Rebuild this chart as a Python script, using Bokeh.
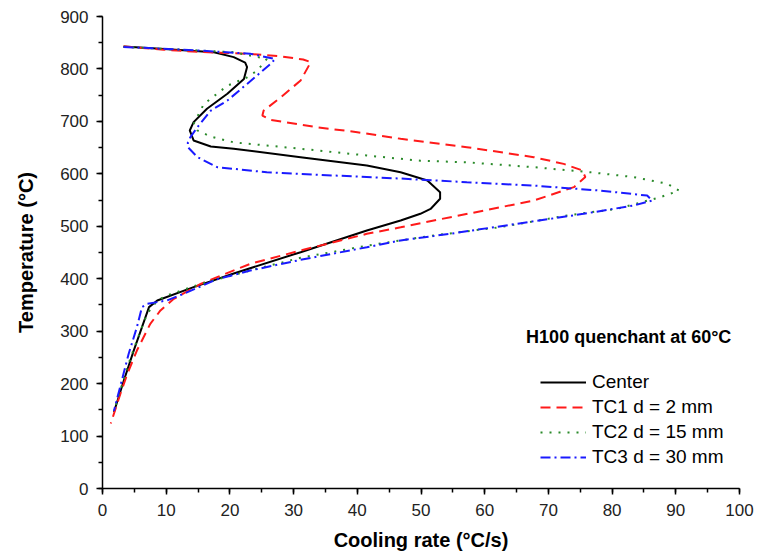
from bokeh.plotting import figure
from bokeh.models import Range1d, SingleIntervalTicker, Label
from bokeh.embed import file_html
from bokeh.resources import INLINE

# ---- data ----
center_rate = [3.3, 9.1, 17.5, 20.6, 22.4, 22.7, 22.2, 19.6, 16.4, 14.3, 13.7, 14.3, 17.0, 20.6, 31.1,
               41.5, 46.8, 51.0, 53.0, 53.0, 51.5, 49.9, 46.8, 41.5, 31.1, 20.6, 14.3, 8.6, 7.3, 6.2,
               4.9, 3.35, 1.8]
center_temp = [843, 838.5, 832, 822.5, 812, 803.5, 781, 752.6, 724, 698.6, 682.7, 663.6, 652, 647.8, 631.8,
               616, 603, 587.4, 565, 552.4, 533, 523.8, 511, 492, 450.6, 410, 384, 358.5, 345.8, 307.6,
               263, 206, 146]

tc1_rate = [3.3, 9.6, 15.4, 22.7, 28.0, 31.5, 32.7, 31.1, 28.0, 25.3, 25.1, 26.4, 33.7, 40.0, 46.8,
            57.2, 67.7, 72.4, 75.3, 75.8, 74.0, 67.7, 59.9, 52.0, 46.8, 41.5, 31.1, 23.2, 18.0, 15.4,
            11.2, 9.1, 7.5, 5.4, 3.9, 2.8, 1.3]
tc1_temp = [843, 836.6, 832.5, 829, 824, 818, 813, 778, 746, 720.6, 711, 703, 688.8, 679.4, 666.8,
            650.9, 631.8, 619, 606.6, 593.8, 574.6, 549, 530, 511, 498, 485.6, 453.8, 428.4, 403, 390,
            361.7, 339.5, 314, 263, 218.7, 180.5, 124]

tc2_rate = [3.3, 10.1, 20.6, 25.8, 24.3, 22.7, 19.6, 15.9, 14.3, 14.9, 17.0, 20.6, 25.8, 31.1, 41.5,
            49.9, 57.2, 67.7, 76.6, 83.4, 88.7, 90.5, 87.6, 80.8, 73.0, 62.5, 52.0, 46.8, 41.5, 31.1,
            23.2, 15.4, 10.1, 8.6, 7.0, 5.4, 3.9, 2.0]
tc2_temp = [842, 838, 832, 819, 797, 784, 768, 733, 695, 682.7, 671, 660, 654, 647.8, 635,
            625, 622, 612.7, 603, 593.8, 581, 568, 555.6, 533.4, 520.7, 498.4, 482.5, 473, 463, 440,
            415.6, 390, 368, 358.5, 333, 282, 231.4, 155]

tc3_rate = [3.3, 15.4, 23.2, 27.1, 26.4, 22.7, 19.6, 17.0, 14.9, 13.8, 13.4, 13.4, 14.9, 18.0, 25.8,
            36.3, 46.8, 57.2, 67.7, 78.2, 85.5, 86.3, 83.4, 75.5, 65.0, 54.5, 46.8, 41.5, 31.1, 23.2,
            18.0, 12.7, 10.1, 7.0, 6.2, 5.4, 4.1, 1.8]
tc3_temp = [842, 835, 829, 819, 809.7, 771.5, 739.7, 720.6, 689, 670, 660, 650.9, 632, 612.7, 603,
            596.8, 591, 584, 577.6, 568, 558.6, 549, 539.6, 523.7, 504.6, 485.6, 473, 460, 436, 415.6,
            399, 371, 358.5, 352, 346, 307.6, 256.6, 148]

series_labels = ["Center", "TC1 d = 2 mm", "TC2 d = 15 mm", "TC3 d = 30 mm"]
annotation = "H100 quenchant at 60°C"
x_title = "Cooling rate (°C/s)"
y_title = "Temperature (°C)"

FONT = "Liberation Sans"

p = figure(width=758, height=558, output_backend="svg", toolbar_location=None,
           x_range=Range1d(0, 100), y_range=Range1d(0, 900),
           min_border_left=102, min_border_right=19, min_border_top=16, min_border_bottom=70)
p.outline_line_color = None
p.grid.visible = False
p.background_fill_color = "white"
p.border_fill_color = "white"

p.line(center_rate, center_temp, line_color="black", line_width=2, legend_label=series_labels[0])
p.line(tc1_rate, tc1_temp, line_color="#ff1a1a", line_width=2, line_dash="10 6", legend_label=series_labels[1])
p.line(tc2_rate, tc2_temp, line_color="#2a8a2a", line_width=2, line_dash="2 7", legend_label=series_labels[2])
p.line(tc3_rate, tc3_temp, line_color="#1a1aff", line_width=2, line_dash="10 4 2 4", legend_label=series_labels[3])

p.xaxis.ticker = SingleIntervalTicker(interval=10, num_minor_ticks=2)
p.yaxis.ticker = SingleIntervalTicker(interval=100, num_minor_ticks=2)
for ax in (p.xaxis[0], p.yaxis[0]):
    ax.axis_line_width = 1.5
    ax.axis_line_color = "black"
    ax.major_tick_line_width = 1.5
    ax.minor_tick_line_width = 1.5
    ax.major_tick_out = 6
    ax.major_tick_in = 0
    ax.minor_tick_out = 4
    ax.minor_tick_in = 0
    ax.major_label_text_font = FONT
    ax.major_label_text_font_size = "17px"
    ax.major_label_text_color = "#222222"
    ax.axis_label_text_font = FONT
    ax.axis_label_text_font_style = "bold"
    ax.axis_label_text_font_size = "20px"
    ax.axis_label_text_color = "black"

p.xaxis.axis_label = x_title
p.yaxis.axis_label = y_title
p.xaxis.major_label_standoff = 9
p.xaxis.axis_label_standoff = 10
p.yaxis.major_label_standoff = 8
p.yaxis.axis_label_standoff = 20

p.add_layout(Label(x=66.5, y=288, text=annotation, text_font=FONT, text_font_style="bold",
                   text_font_size="18px", text_baseline="middle", text_align="left", text_color="black"))

lg = p.legend[0]
lg.location = (438, 20)
lg.border_line_color = None
lg.background_fill_alpha = 0
lg.label_text_font = FONT
lg.label_text_font_size = "19px"
lg.label_text_color = "black"
lg.glyph_width = 46
lg.glyph_height = 20
lg.label_height = 20
lg.spacing = 3
lg.padding = 0
lg.margin = 0
lg.label_standoff = 6

open("out.html", "w").write(file_html(p, INLINE))
